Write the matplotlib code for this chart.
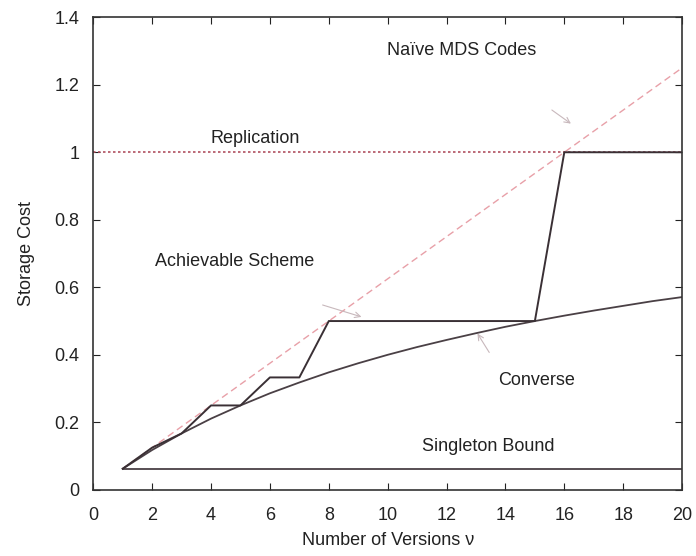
import matplotlib
matplotlib.use("Agg")
import matplotlib.pyplot as plt

plt.rcParams['font.family'] = ['Liberation Sans', 'DejaVu Sans']

versions = list(range(1, 21))
converse = [0.0625, 0.118, 0.167, 0.211, 0.25, 0.286, 0.318, 0.348, 0.375, 0.4,
            0.423, 0.444, 0.464, 0.483, 0.5, 0.516, 0.531, 0.545, 0.559, 0.571]
naive_x = [1, 20]
naive_y = [0.0625, 1.25]
achiev_x = [1, 2, 3, 4, 5, 6, 7, 8, 15, 16, 20]
achiev_y = [0.0625, 0.125, 0.167, 0.25, 0.25, 0.333, 0.333, 0.5, 0.5, 1.0, 1.0]
repl_x = [0, 20]
repl_y = [1.0, 1.0]
single_x = [1, 20]
single_y = [0.0625, 0.0625]

fig = plt.figure(figsize=(6.96, 5.56), dpi=100)
ax = fig.add_axes([0.134, 0.119, 0.846, 0.85])

ax.plot(repl_x, repl_y, color='#b05060', linestyle=(0, (1.5, 1.5)), linewidth=1.2)
ax.plot(naive_x, naive_y, color='#e8a0a8', linestyle=(0, (5, 3)), linewidth=1.0)
ax.plot(versions, converse, color='#4a4045', linewidth=1.3)
ax.plot(single_x, single_y, color='#4a4045', linewidth=1.3)
ax.plot(achiev_x, achiev_y, color='#3a3035', linewidth=1.4)

ax.set_xlim(0, 20)
ax.set_ylim(0, 1.4)
ax.set_xticks(range(0, 21, 2))
ax.set_yticks([0, 0.2, 0.4, 0.6, 0.8, 1.0, 1.2, 1.4])
ax.set_yticklabels(['0', '0.2', '0.4', '0.6', '0.8', '1', '1.2', '1.4'])
ax.tick_params(direction='in', top=True, right=True, labelsize=13, length=5, colors='#222222')
ax.tick_params(axis='x', pad=12)
ax.tick_params(axis='y', pad=10)
for s in ax.spines.values():
    s.set_color('#333333')
    s.set_linewidth(1.2)

ax.set_xlabel('Number of Versions ν', fontsize=13, color='#222222', labelpad=6)
ax.set_ylabel('Storage Cost', fontsize=13, color='#222222', labelpad=14)

kw = dict(fontsize=13, color='#222222', ha='center', va='center')
ax.text(12.5, 1.30, 'Naïve MDS Codes', **kw)
ax.text(5.5, 1.04, 'Replication', **kw)
ax.text(4.8, 0.675, 'Achievable Scheme', **kw)
ax.text(15.05, 0.325, 'Converse', **kw)
ax.text(13.4, 0.127, 'Singleton Bound', **kw)

arr = dict(arrowstyle='->', color='#c8b8bc', lw=0.8)
ax.annotate('', xy=(16.3, 1.08), xytext=(15.5, 1.13), arrowprops=arr)
ax.annotate('', xy=(9.2, 0.51), xytext=(7.7, 0.55), arrowprops=arr)
ax.annotate('', xy=(13.0, 0.47), xytext=(13.5, 0.40), arrowprops=arr)

fig.savefig('out.png', dpi=100)
